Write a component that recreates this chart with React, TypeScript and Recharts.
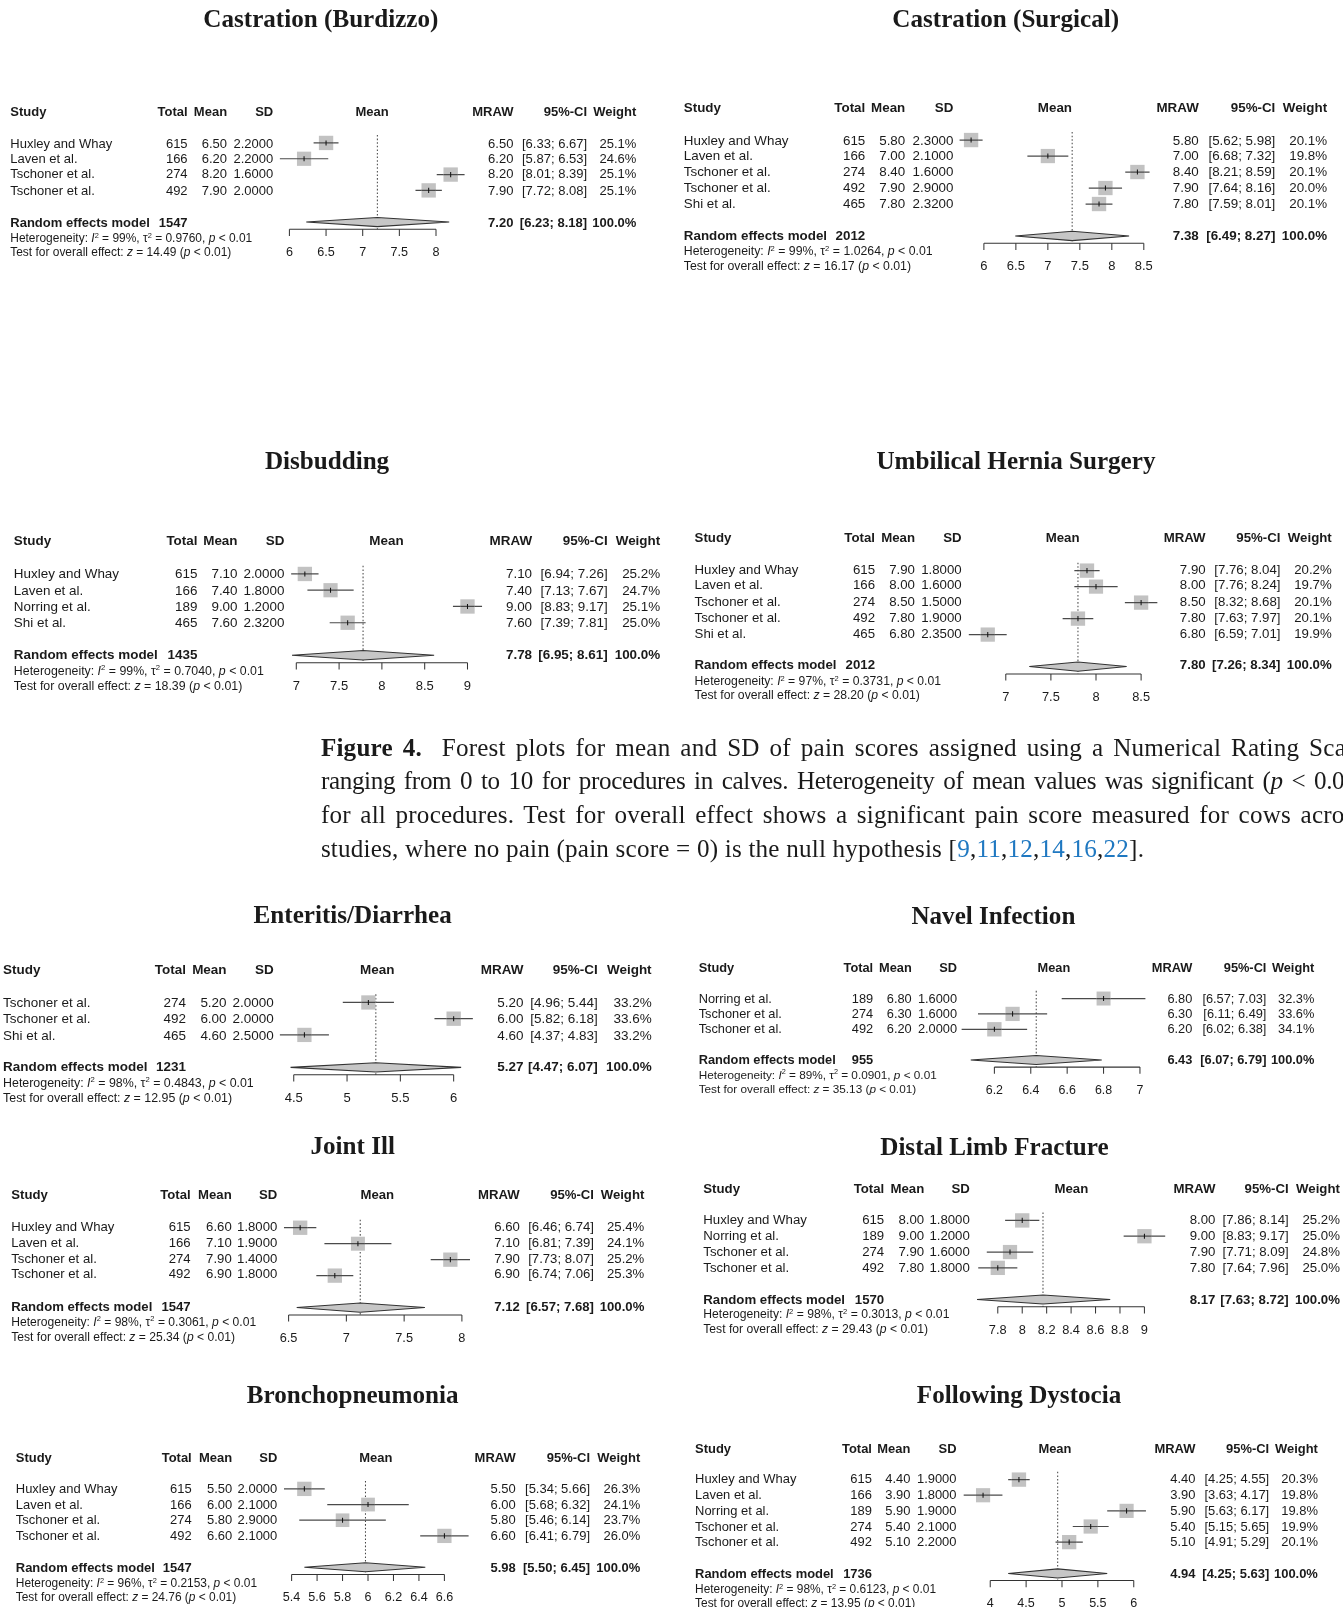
import React from 'react';
import { ComposedChart, Scatter, XAxis, YAxis, ErrorBar, ReferenceLine } from 'recharts';

// study row: name, total, mean, sd, ci low, ci high, weight (%)
type Study = [string, number, number, number, number, number, number];
// pooled: total, estimate, ci low, ci high
type Pooled = [number, number, number, number];
// I2 (%), tau2, z
type Stats = [number, number, number];

const BURDIZZO_STUDIES: Study[] = [
  ['Huxley and Whay', 615, 6.5, 2.2, 6.33, 6.67, 25.1],
  ['Laven et al.', 166, 6.2, 2.2, 5.87, 6.53, 24.6],
  ['Tschoner et al.', 274, 8.2, 1.6, 8.01, 8.39, 25.1],
  ['Tschoner et al.', 492, 7.9, 2.0, 7.72, 8.08, 25.1],
];
const BURDIZZO_POOLED: Pooled = [1547, 7.2, 6.23, 8.18];
const BURDIZZO_STATS: Stats = [99, 0.976, 14.49];
const BURDIZZO_TICKS = [6, 6.5, 7, 7.5, 8];

const SURGICAL_STUDIES: Study[] = [
  ['Huxley and Whay', 615, 5.8, 2.3, 5.62, 5.98, 20.1],
  ['Laven et al.', 166, 7.0, 2.1, 6.68, 7.32, 19.8],
  ['Tschoner et al.', 274, 8.4, 1.6, 8.21, 8.59, 20.1],
  ['Tschoner et al.', 492, 7.9, 2.9, 7.64, 8.16, 20.0],
  ['Shi et al.', 465, 7.8, 2.32, 7.59, 8.01, 20.1],
];
const SURGICAL_POOLED: Pooled = [2012, 7.38, 6.49, 8.27];
const SURGICAL_STATS: Stats = [99, 1.0264, 16.17];
const SURGICAL_TICKS = [6, 6.5, 7, 7.5, 8, 8.5];

const DISBUDDING_STUDIES: Study[] = [
  ['Huxley and Whay', 615, 7.1, 2.0, 6.94, 7.26, 25.2],
  ['Laven et al.', 166, 7.4, 1.8, 7.13, 7.67, 24.7],
  ['Norring et al.', 189, 9.0, 1.2, 8.83, 9.17, 25.1],
  ['Shi et al.', 465, 7.6, 2.32, 7.39, 7.81, 25.0],
];
const DISBUDDING_POOLED: Pooled = [1435, 7.78, 6.95, 8.61];
const DISBUDDING_STATS: Stats = [99, 0.704, 18.39];
const DISBUDDING_TICKS = [7, 7.5, 8, 8.5, 9];

const HERNIA_STUDIES: Study[] = [
  ['Huxley and Whay', 615, 7.9, 1.8, 7.76, 8.04, 20.2],
  ['Laven et al.', 166, 8.0, 1.6, 7.76, 8.24, 19.7],
  ['Tschoner et al.', 274, 8.5, 1.5, 8.32, 8.68, 20.1],
  ['Tschoner et al.', 492, 7.8, 1.9, 7.63, 7.97, 20.1],
  ['Shi et al.', 465, 6.8, 2.35, 6.59, 7.01, 19.9],
];
const HERNIA_POOLED: Pooled = [2012, 7.8, 7.26, 8.34];
const HERNIA_STATS: Stats = [97, 0.3731, 28.2];
const HERNIA_TICKS = [7, 7.5, 8, 8.5];

const ENTERITIS_STUDIES: Study[] = [
  ['Tschoner et al.', 274, 5.2, 2.0, 4.96, 5.44, 33.2],
  ['Tschoner et al.', 492, 6.0, 2.0, 5.82, 6.18, 33.6],
  ['Shi et al.', 465, 4.6, 2.5, 4.37, 4.83, 33.2],
];
const ENTERITIS_POOLED: Pooled = [1231, 5.27, 4.47, 6.07];
const ENTERITIS_STATS: Stats = [98, 0.4843, 12.95];
const ENTERITIS_TICKS = [4.5, 5, 5.5, 6];

const NAVEL_STUDIES: Study[] = [
  ['Norring et al.', 189, 6.8, 1.6, 6.57, 7.03, 32.3],
  ['Tschoner et al.', 274, 6.3, 1.6, 6.11, 6.49, 33.6],
  ['Tschoner et al.', 492, 6.2, 2.0, 6.02, 6.38, 34.1],
];
const NAVEL_POOLED: Pooled = [955, 6.43, 6.07, 6.79];
const NAVEL_STATS: Stats = [89, 0.0901, 35.13];
const NAVEL_TICKS = [6.2, 6.4, 6.6, 6.8, 7];

const JOINT_STUDIES: Study[] = [
  ['Huxley and Whay', 615, 6.6, 1.8, 6.46, 6.74, 25.4],
  ['Laven et al.', 166, 7.1, 1.9, 6.81, 7.39, 24.1],
  ['Tschoner et al.', 274, 7.9, 1.4, 7.73, 8.07, 25.2],
  ['Tschoner et al.', 492, 6.9, 1.8, 6.74, 7.06, 25.3],
];
const JOINT_POOLED: Pooled = [1547, 7.12, 6.57, 7.68];
const JOINT_STATS: Stats = [98, 0.3061, 25.34];
const JOINT_TICKS = [6.5, 7, 7.5, 8];

const LIMB_STUDIES: Study[] = [
  ['Huxley and Whay', 615, 8.0, 1.8, 7.86, 8.14, 25.2],
  ['Norring et al.', 189, 9.0, 1.2, 8.83, 9.17, 25.0],
  ['Tschoner et al.', 274, 7.9, 1.6, 7.71, 8.09, 24.8],
  ['Tschoner et al.', 492, 7.8, 1.8, 7.64, 7.96, 25.0],
];
const LIMB_POOLED: Pooled = [1570, 8.17, 7.63, 8.72];
const LIMB_STATS: Stats = [98, 0.3013, 29.43];
const LIMB_TICKS = [7.8, 8, 8.2, 8.4, 8.6, 8.8, 9];

const BRONCHO_STUDIES: Study[] = [
  ['Huxley and Whay', 615, 5.5, 2.0, 5.34, 5.66, 26.3],
  ['Laven et al.', 166, 6.0, 2.1, 5.68, 6.32, 24.1],
  ['Tschoner et al.', 274, 5.8, 2.9, 5.46, 6.14, 23.7],
  ['Tschoner et al.', 492, 6.6, 2.1, 6.41, 6.79, 26.0],
];
const BRONCHO_POOLED: Pooled = [1547, 5.98, 5.5, 6.45];
const BRONCHO_STATS: Stats = [96, 0.2153, 24.76];
const BRONCHO_TICKS = [5.4, 5.6, 5.8, 6, 6.2, 6.4, 6.6];

const DYSTOCIA_STUDIES: Study[] = [
  ['Huxley and Whay', 615, 4.4, 1.9, 4.25, 4.55, 20.3],
  ['Laven et al.', 166, 3.9, 1.8, 3.63, 4.17, 19.8],
  ['Norring et al.', 189, 5.9, 1.9, 5.63, 6.17, 19.8],
  ['Tschoner et al.', 274, 5.4, 2.1, 5.15, 5.65, 19.9],
  ['Tschoner et al.', 492, 5.1, 2.2, 4.91, 5.29, 20.1],
];
const DYSTOCIA_POOLED: Pooled = [1736, 4.94, 4.25, 5.63];
const DYSTOCIA_STATS: Stats = [98, 0.6123, 13.95];
const DYSTOCIA_TICKS = [4, 4.5, 5, 5.5, 6];

const CITES = ['9', '11', '12', '14', '16', '22'];

const SANS = '"Liberation Sans", Arial, Helvetica, sans-serif';
const SERIF = '"Liberation Serif", "Times New Roman", serif';
const INK = '#1a1a1a';

// layout in the 1310-wide frame; cols = right edges of Total, Mean, SD, centre of plot header, MRAW, CI, Weight
type Layout = {
  tx: number; ty: number; x0: number; header: number; dy: number;
  cols: number[]; t0px: number; k: number;
};

type Panel = {
  title: string; studies: Study[]; pooled: Pooled; stats: Stats; ticks: number[]; lay: Layout;
};

const PANELS: Panel[] = [
  { title: 'Castration (Burdizzo)', studies: BURDIZZO_STUDIES, pooled: BURDIZZO_POOLED, stats: BURDIZZO_STATS, ticks: BURDIZZO_TICKS,
    lay: { tx: 313, ty: 18, x0: 10, header: 109, dy: 15.43, cols: [183, 221.5, 266.5, 363, 500.8, 572.7, 620.7], t0px: 282, k: 71.5 } },
  { title: 'Castration (Surgical)', studies: SURGICAL_STUDIES, pooled: SURGICAL_POOLED, stats: SURGICAL_STATS, ticks: SURGICAL_TICKS,
    lay: { tx: 981, ty: 18, x0: 667, header: 105, dy: 15.6, cols: [844, 883, 930, 1029, 1169.3, 1244, 1294.5], t0px: 960, k: 62.4 } },
  { title: 'Disbudding', studies: DISBUDDING_STUDIES, pooled: DISBUDDING_POOLED, stats: DISBUDDING_STATS, ticks: DISBUDDING_TICKS,
    lay: { tx: 319, ty: 449, x0: 13.5, header: 528, dy: 15.86, cols: [192.6, 231.7, 277.5, 377, 519, 592.7, 644], t0px: 289, k: 83.5 } },
  { title: 'Umbilical Hernia Surgery', studies: HERNIA_STUDIES, pooled: HERNIA_POOLED, stats: HERNIA_STATS, ticks: HERNIA_TICKS,
    lay: { tx: 991, ty: 449, x0: 677.5, header: 525, dy: 15.6, cols: [853.5, 892.5, 938, 1036.5, 1176, 1249, 1299], t0px: 981, k: 88 } },
  { title: 'Enteritis/Diarrhea', studies: ENTERITIS_STUDIES, pooled: ENTERITIS_POOLED, stats: ENTERITIS_STATS, ticks: ENTERITIS_TICKS,
    lay: { tx: 344, ty: 892, x0: 3, header: 946, dy: 15.83, cols: [181.3, 221, 267, 368, 510.6, 583, 635.6], t0px: 287, k: 104 } },
  { title: 'Navel Infection', studies: NAVEL_STUDIES, pooled: NAVEL_POOLED, stats: NAVEL_STATS, ticks: NAVEL_TICKS,
    lay: { tx: 969, ty: 893, x0: 681.5, header: 944, dy: 15, cols: [851.7, 889.3, 933.5, 1028, 1163, 1235.3, 1282], t0px: 970, k: 177.5 } },
  { title: 'Joint Ill', studies: JOINT_STUDIES, pooled: JOINT_POOLED, stats: JOINT_STATS, ticks: JOINT_TICKS,
    lay: { tx: 344, ty: 1118, x0: 11, header: 1166, dy: 15.57, cols: [186, 226, 270.5, 368, 507, 579.4, 628.5], t0px: 282, k: 112.7 } },
  { title: 'Distal Limb Fracture', studies: LIMB_STUDIES, pooled: LIMB_POOLED, stats: LIMB_STATS, ticks: LIMB_TICKS,
    lay: { tx: 970, ty: 1119, x0: 686, header: 1160, dy: 15.43, cols: [862.5, 901.5, 946, 1045, 1185.5, 1257, 1307], t0px: 973, k: 119.2 } },
  { title: 'Bronchopneumonia', studies: BRONCHO_STUDIES, pooled: BRONCHO_POOLED, stats: BRONCHO_STATS, ticks: BRONCHO_TICKS,
    lay: { tx: 344, ty: 1361, x0: 15.4, header: 1422, dy: 15.29, cols: [187, 226.5, 270.5, 366.5, 503, 575.5, 624.5], t0px: 284, k: 124.2 } },
  { title: 'Following Dystocia', studies: DYSTOCIA_STUDIES, pooled: DYSTOCIA_POOLED, stats: DYSTOCIA_STATS, ticks: DYSTOCIA_TICKS,
    lay: { tx: 994, ty: 1361, x0: 678, header: 1413, dy: 15.25, cols: [850.5, 888, 933, 1029, 1166, 1238, 1285.5], t0px: 966, k: 70 } },
];

type TextProps = {
  x: number; y: number; size: number; align?: 'left' | 'right' | 'center';
  bold?: boolean; family?: string; children: React.ReactNode;
};

function Txt({ x, y, size, align = 'left', bold = false, family = SANS, children }: TextProps) {
  const w = 600;
  const style: React.CSSProperties = {
    position: 'absolute',
    top: y - size / 2,
    height: size,
    lineHeight: `${size}px`,
    fontSize: size,
    fontFamily: family,
    fontWeight: bold ? 700 : 400,
    whiteSpace: 'nowrap',
    color: INK,
  };
  if (align === 'left') style.left = x;
  else if (align === 'right') { style.left = x - w; style.width = w; style.textAlign = 'right'; }
  else { style.left = x - w / 2; style.width = w; style.textAlign = 'center'; }
  return <div style={style}>{children}</div>;
}

const sup = (s: string) => (
  <sup style={{ fontSize: '0.62em', verticalAlign: '0.55em', lineHeight: 0 }}>{s}</sup>
);

const Empty = () => <g />;

function ForestPanel({ panel }: { panel: Panel }) {
  const { title, studies, pooled, stats, ticks, lay } = panel;
  const n = studies.length;
  const { x0, header, dy, k, t0px } = lay;
  const [cTotal, cMean, cSd, cPlot, cMraw, cCi, cW] = lay.cols;
  const fs = (12.7 * (cW - x0)) / 611;
  const rowY = (r: number) => header + (r + 1) * dy;
  const sumR = n + 2;
  const axisR = sumR + 0.46;
  const [pTotal, est, lo, hi] = pooled;
  const wmax = Math.max(...studies.map((s) => s[6]));

  const rows = studies.map((s, i) => ({ x: s[2], y: i + 1, err: [s[2] - s[4], s[5] - s[2]], weight: s[6] }));
  const diamond = [
    { x: lo, y: sumR },
    { x: est, y: sumR - 0.29 },
    { x: hi, y: sumR },
    { x: est, y: sumR + 0.29 },
    { x: lo, y: sumR },
  ];

  const pad = 10 / k;
  const d0 = Math.min(lo, ticks[0], ...studies.map((s) => s[4])) - pad;
  const d1 = Math.max(hi, ticks[ticks.length - 1], ...studies.map((s) => s[5])) + pad;
  const left = t0px + (d0 - ticks[0]) * k;
  const width = (d1 - d0) * k;
  const top = rowY(0);
  const plotH = axisR * dy;
  const axisH = 40;

  const Square = (props: any) => {
    const { cx, cy, payload } = props;
    const s = 14 * Math.sqrt(payload.weight / wmax);
    return (
      <g>
        <rect x={cx - s / 2} y={cy - s / 2} width={s} height={s} fill="#c2c2c2" />
        <line x1={cx - s / 2} x2={cx + s / 2} y1={cy} y2={cy} stroke="#4a4a4a" strokeWidth={1.2} />
        <line x1={cx} x2={cx} y1={cy - 2.5} y2={cy + 2.5} stroke="#111" strokeWidth={1} />
      </g>
    );
  };

  const sumY = rowY(sumR);
  const hetSize = fs * 0.92;

  return (
    <>
      <Txt x={lay.tx} y={lay.ty} size={24.5} align="center" bold family={SERIF}>{title}</Txt>
      <Txt x={x0} y={header} size={fs} bold>Study</Txt>
      <Txt x={cTotal} y={header} size={fs} bold align="right">Total</Txt>
      <Txt x={cMean} y={header} size={fs} bold align="right">Mean</Txt>
      <Txt x={cSd} y={header} size={fs} bold align="right">SD</Txt>
      <Txt x={cPlot} y={header} size={fs} bold align="center">Mean</Txt>
      <Txt x={cMraw} y={header} size={fs} bold align="right">MRAW</Txt>
      <Txt x={cCi} y={header} size={fs} bold align="right">95%-CI</Txt>
      <Txt x={cW} y={header} size={fs} bold align="right">Weight</Txt>

      {studies.map((s, i) => {
        const y = rowY(i + 1);
        return (
          <React.Fragment key={i}>
            <Txt x={x0} y={y} size={fs}>{s[0]}</Txt>
            <Txt x={cTotal} y={y} size={fs} align="right">{s[1]}</Txt>
            <Txt x={cMean} y={y} size={fs} align="right">{s[2].toFixed(2)}</Txt>
            <Txt x={cSd} y={y} size={fs} align="right">{s[3].toFixed(4)}</Txt>
            <Txt x={cMraw} y={y} size={fs} align="right">{s[2].toFixed(2)}</Txt>
            <Txt x={cCi} y={y} size={fs} align="right">[{s[4].toFixed(2)}; {s[5].toFixed(2)}]</Txt>
            <Txt x={cW} y={y} size={fs} align="right">{s[6].toFixed(1)}%</Txt>
          </React.Fragment>
        );
      })}

      <Txt x={x0} y={sumY} size={fs} bold>Random effects model</Txt>
      <Txt x={cTotal} y={sumY} size={fs} bold align="right">{pTotal}</Txt>
      <Txt x={cMraw} y={sumY} size={fs} bold align="right">{est.toFixed(2)}</Txt>
      <Txt x={cCi} y={sumY} size={fs} bold align="right">[{lo.toFixed(2)}; {hi.toFixed(2)}]</Txt>
      <Txt x={cW} y={sumY} size={fs} bold align="right">100.0%</Txt>
      <Txt x={x0} y={sumY + dy * 0.97} size={hetSize}>
        Heterogeneity: <i>I</i>{sup('2')} = {stats[0]}%, τ{sup('2')} = {stats[1].toFixed(4)}, <i>p</i> &lt; 0.01
      </Txt>
      <Txt x={x0} y={sumY + dy * 1.9} size={hetSize}>
        Test for overall effect: <i>z</i> = {stats[2].toFixed(2)} (<i>p</i> &lt; 0.01)
      </Txt>

      <div style={{ position: 'absolute', left, top }}>
        <ComposedChart width={width} height={plotH + axisH} margin={{ top: 0, right: 0, bottom: 0, left: 0 }}>
          <XAxis
            type="number"
            dataKey="x"
            domain={[d0, d1]}
            ticks={ticks}
            interval={0}
            axisLine={false}
            tickLine={{ stroke: '#333', strokeWidth: 1 }}
            tickSize={6.5}
            tickMargin={11}
            height={axisH}
            tick={{ fontSize: fs * 0.97, fill: INK, fontFamily: SANS }}
          />
          <YAxis type="number" dataKey="y" domain={[0, axisR]} reversed hide />
          <ReferenceLine
            segment={[{ x: est, y: 0.5 }, { x: est, y: axisR }]}
            stroke="#444"
            strokeDasharray="1.5 2"
            ifOverflow="visible"
          />
          <ReferenceLine
            segment={[{ x: ticks[0], y: axisR }, { x: ticks[ticks.length - 1], y: axisR }]}
            stroke="#333"
            ifOverflow="visible"
          />
          <Scatter data={rows} shape={Square} isAnimationActive={false}>
            <ErrorBar dataKey="err" direction="x" width={0} stroke="#4a4a4a" strokeWidth={1.2} isAnimationActive={false} />
          </Scatter>
          <Scatter
            data={diamond}
            line={{ stroke: '#333', fill: '#c6c6c6', strokeWidth: 1 }}
            lineType="joint"
            shape={Empty}
            isAnimationActive={false}
          />
        </ComposedChart>
      </div>
    </>
  );
}

const justified: React.CSSProperties = { textAlign: 'justify', textAlignLast: 'justify', whiteSpace: 'normal', height: 33, overflow: 'hidden' };

function Caption() {
  return (
    <div style={{ position: 'absolute', left: 313, top: 728 - 16.5, width: 1310 - 313, height: 140, overflow: 'hidden' }}>
      <div
        style={{
          width: 1018,
          fontFamily: SERIF,
          fontSize: 24.5,
          letterSpacing: 0.2,
          lineHeight: '33px',
          color: INK,
        }}
      >
        <div style={justified}><b>Figure 4.</b>&nbsp; Forest plots for mean and SD of pain scores assigned using a Numerical Rating Scale</div>
        <div style={{ ...justified, letterSpacing: -0.35, wordSpacing: -2 }}>
          ranging from 0 to 10 for procedures in calves. Heterogeneity of mean values was significant (<i>p</i> &lt; 0.01)
        </div>
        <div style={justified}>for all procedures. Test for overall effect shows a significant pain score measured for cows across</div>
        <div style={{ whiteSpace: 'nowrap' }}>
          studies, where no pain (pain score = 0) is the null hypothesis [
          {CITES.map((c, i) => (
            <React.Fragment key={c}>
              <span style={{ color: '#1f78c1' }}>{c}</span>
              {i < CITES.length - 1 ? ',' : ''}
            </React.Fragment>
          ))}
          ].
        </div>
      </div>
    </div>
  );
}

export default function App() {
  return (
    <div style={{ position: 'absolute', left: 0, top: 0, width: 1343, height: 1607, overflow: 'hidden', background: '#fff' }}>
      <div style={{ position: 'relative', width: 1310, height: 1568, transform: `scale(${1343 / 1310})`, transformOrigin: '0 0' }}>
        {PANELS.map((p) => (
          <ForestPanel key={p.title} panel={p} />
        ))}
        <Caption />
      </div>
    </div>
  );
}
